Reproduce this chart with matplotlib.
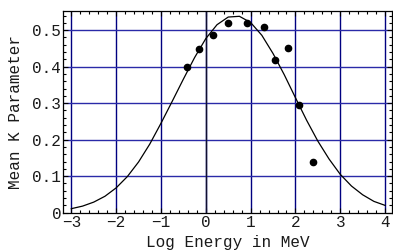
import matplotlib
matplotlib.use("Agg")
import matplotlib.pyplot as plt
from matplotlib.ticker import MultipleLocator, FixedLocator

# Data points
pts_x = [-0.41, -0.15, 0.15, 0.50, 0.93, 1.29, 1.55, 1.84, 2.08, 2.40]
pts_y = [0.399, 0.449, 0.487, 0.519, 0.520, 0.508, 0.417, 0.451, 0.296, 0.140]

# Fitted curve
curve_x = [-3.00, -2.75, -2.50, -2.25, -2.00, -1.75, -1.50, -1.25, -1.00, -0.75,
           -0.50, -0.25, 0.00, 0.25, 0.50, 0.75, 1.00, 1.25, 1.50, 1.75,
           2.00, 2.25, 2.50, 2.75, 3.00, 3.25, 3.50, 3.75, 4.00]
curve_y = [0.011, 0.018, 0.029, 0.045, 0.068, 0.099, 0.139, 0.188, 0.245, 0.305,
           0.366, 0.425, 0.477, 0.515, 0.536, 0.538, 0.521, 0.486, 0.436, 0.378,
           0.315, 0.253, 0.196, 0.147, 0.105, 0.073, 0.049, 0.031, 0.020]

xticks = [-3, -2, -1, 0, 1, 2, 3, 4]
xtick_labels = ["\u22123", "\u22122", "\u22121", "0", "1", "2", "3", "4"]
yticks = [0, 0.1, 0.2, 0.3, 0.4, 0.5]
ytick_labels = ["0", "0.1", "0.2", "0.3", "0.4", "0.5"]

plt.rcParams['font.family'] = ['Liberation Mono', 'DejaVu Sans Mono']

fig = plt.figure(figsize=(3.93, 2.52), dpi=100)
ax = fig.add_axes([0.161, 0.156, 0.836, 0.801])

navy = '#000080'
for xv in xticks:
    ax.axvline(xv, color=navy, lw=1.0, zorder=1)
for yv in yticks[1:]:
    ax.axhline(yv, color='#2a2aa8', lw=1.0, zorder=1)
ax.axvline(0, color='#101030', lw=1.0, zorder=2)

ax.plot(curve_x, curve_y, color='black', lw=0.9, zorder=3)
ax.plot(pts_x, pts_y, 'o', color='black', ms=4.5, zorder=4)

ax.set_xlim(-3.18, 4.15)
ax.set_ylim(0, 0.553)

ax.xaxis.set_major_locator(FixedLocator(xticks))
ax.xaxis.set_minor_locator(MultipleLocator(0.2))
ax.yaxis.set_major_locator(FixedLocator(yticks))
ax.yaxis.set_minor_locator(MultipleLocator(0.02))
ax.set_xticklabels(xtick_labels)
ax.set_yticklabels(ytick_labels)

ax.tick_params(which='both', direction='in', top=True, right=True, color='black',
               labelsize=11.5, pad=1.5, width=0.8, labelcolor='#1a1a1a')
ax.tick_params(which='major', length=3.5)
ax.tick_params(which='minor', length=2)
for s in ax.spines.values():
    s.set_linewidth(0.9)
    s.set_color('black')

ax.set_xlabel("Log Energy in MeV", fontsize=11.5, labelpad=4, color='#1a1a1a')
ax.set_ylabel("Mean K Parameter", fontsize=11.5, labelpad=7, color='#1a1a1a')

fig.savefig("out.png", dpi=100)
